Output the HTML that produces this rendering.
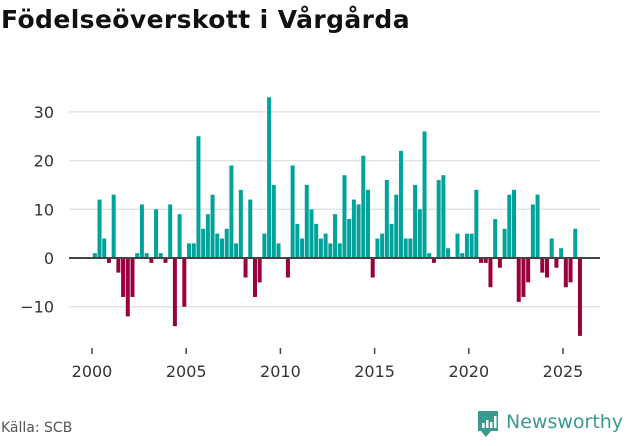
<!DOCTYPE html>
<html><head><meta charset="utf-8"><style>
body{margin:0;width:631px;height:439px;background:#fff;overflow:hidden;font-family:"DejaVu Sans","Liberation Sans",sans-serif;}
.title{position:absolute;left:1px;top:5px;font:bold 25px "DejaVu Sans",sans-serif;color:#111;letter-spacing:0.4px}
.src{position:absolute;left:1px;top:420px;font-size:14px;color:#555}
.logo{position:absolute;left:476px;top:408px;}
</style></head><body>
<div class="title">Födelseöverskott i Vårgårda</div>
<svg id="chart" width="631" height="439" style="position:absolute;left:0;top:0"></svg>
<div class="src">Källa: SCB</div>
<div class="logo">
<svg width="150" height="34">
<path d="M2 3h20v20h-7l-5 6-5-6H2z" fill="#3a9a8e"/>
<rect x="6" y="15" width="2.5" height="5" fill="#fff"/><rect x="10" y="12" width="2.5" height="8" fill="#fff"/><rect x="14" y="14" width="2.5" height="6" fill="#fff"/><rect x="18" y="8" width="2.5" height="12" fill="#fff"/>
<text x="30" y="20" font-family="DejaVu Sans, sans-serif" font-size="19" fill="#3a9a8e">Newsworthy</text>
</svg></div>
<script>
const startYear = 2000;
const values = [1,12,4,-1, 13,-3,-8,-12, -8,1,11,1, -1,10,1,-1, 11,-14,9,-10, 3,3,25,6, 9,13,5,4, 6,19,3,14, -4,12,-8,-5, 5,33,15,3,
0,-4,19,7, 4,15,10,7, 4,5,3,9, 3,17,8,12, 11,21,14,-4, 4,5,16,7, 13,22,4,4, 15,10,26,1, -1,16,17,2, 0,5,1,5, 5,14,
-1,-1,-6,8, -2,6,13,14, -9,-8,-5,11, 13,-3,-4,4, -2,2,-6,-5, 6,-16];
const yTicks = [-10,0,10,20,30];
const yTickLabels = ["−10","0","10","20","30"];
const xTicks = [2000,2005,2010,2015,2020,2025];

const svg = document.getElementById('chart');
const NS = 'http://www.w3.org/2000/svg';
function x(year){return 92 + (year-2000)*18.84;}
function y(v){return 258 - v*4.87;}
function mk(tag, attrs){const e=document.createElementNS(NS,tag);for(const k in attrs)e.setAttribute(k,attrs[k]);svg.appendChild(e);return e;}

yTicks.forEach((t,i)=>{
  if(t!==0){
    const g = mk('line',{x1:69,x2:600,y1:y(t),y2:y(t),stroke:'#e3e3e3','stroke-width':1.5});
    
    
  }
  const tx = mk('text',{x:54,y:y(t)+6,'text-anchor':'end','font-size':16,fill:'#333'});
  tx.textContent = yTickLabels[i];
  
  
});
values.forEach((v,i)=>{
  const cx = x(startYear + (i+0.6)/4);
  const r = mk('rect',{x:cx-2,width:4,y:Math.min(y(v),y(0)),height:Math.abs(y(v)-y(0)),fill:v>=0?'#00a39a':'#99003c'});
  
  
});
const base = mk('line',{x1:69,x2:600,y1:y(0),y2:y(0),stroke:'#444','stroke-width':2});


xTicks.forEach(t=>{
  const tk = mk('line',{x1:x(t),x2:x(t),y1:348,y2:354,stroke:'#444','stroke-width':1.5});
  
  
  const tx = mk('text',{x:x(t),y:377,'text-anchor':'middle','font-size':16,fill:'#333'});
  tx.textContent = t;
  
  
});
</script>
</body></html>
